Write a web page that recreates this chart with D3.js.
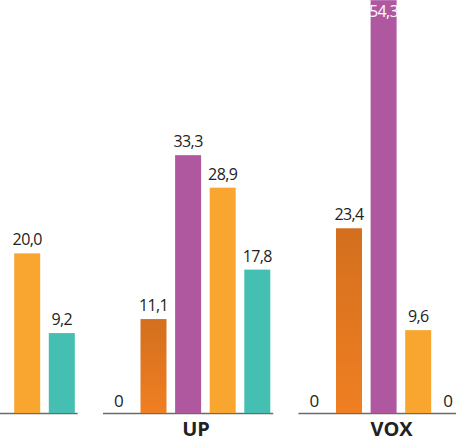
<!DOCTYPE html>
<html>
<head>
<meta charset="utf-8">
<script src="https://cdn.jsdelivr.net/npm/d3@7"></script>
<style>
  html, body { margin: 0; padding: 0; background: #fff; }
  svg { display: block; }
</style>
</head>
<body>
<svg id="chart" width="456" height="441"></svg>
<script>
// ---- data ----
const categories = ["", "UP", "VOX"];
const seriesNames = ["s0", "s1", "s2", "s3", "s4"];
const s0Values = [null, 0, 0];
const s1Values = [null, 11.1, 23.4];
const s2Values = [null, 33.3, 54.3];
const s3Values = [20.0, 28.9, 9.6];
const s4Values = [9.2, 17.8, 0];
const seriesValues = [s0Values, s1Values, s2Values, s3Values, s4Values];

// ---- styles ----
const seriesFills = ["#999999", "url(#gradDark)", "#b0589f", "#f8a62f", "#44bfb1"];
const W = 456, H = 441;
const baseline = 413;
const FONT = "'Open Sans', 'Noto Sans', sans-serif";

const svg = d3.select("#chart");
const defs = svg.append("defs");
const grad = defs.append("linearGradient").attr("id", "gradDark")
  .attr("x1", 0).attr("y1", 0).attr("x2", 0).attr("y2", 1);
grad.append("stop").attr("offset", "0%").attr("stop-color", "#d36f1e");
grad.append("stop").attr("offset", "100%").attr("stop-color", "#f07f22");

const x0 = d3.scaleBand().domain(categories).range([-92.5, 468.7])
  .paddingInner(0.1294).paddingOuter(0);
const x1 = d3.scaleBand().domain(seriesNames).range([0, x0.bandwidth()])
  .paddingInner(0.2486).paddingOuter(0.084);
const y = d3.scaleLinear().domain([0, 55]).range([401, -5]);

const locale = d3.formatLocale({decimal: ",", thousands: ".", grouping: [3], currency: ["", "€"]});
const fmt = v => v === 0 ? "0" : locale.format(".1f")(v);

const rows = [];
categories.forEach((c, i) => {
  seriesNames.forEach((s, j) => {
    const v = seriesValues[j][i];
    if (v !== null && v !== undefined) rows.push({cat: c, series: s, j, value: v});
  });
});

const g = svg.append("g");

// axis baselines per group
g.selectAll("line.base").data(categories).join("line")
  .attr("class", "base")
  .attr("x1", d => x0(d))
  .attr("x2", d => x0(d) + x0.bandwidth())
  .attr("y1", baseline + 0.5).attr("y2", baseline + 0.5)
  .attr("stroke", "#6b6b6b").attr("stroke-width", 1.5);

// bars
g.selectAll("rect.bar").data(rows.filter(d => d.value > 0)).join("rect")
  .attr("class", "bar")
  .attr("x", d => x0(d.cat) + x1(d.series))
  .attr("width", x1.bandwidth())
  .attr("y", d => y(d.value))
  .attr("height", d => baseline - y(d.value))
  .attr("fill", d => seriesFills[d.j]);

// value labels
const cx = d => x0(d.cat) + x1(d.series) + x1.bandwidth() / 2;
const overflowRight = d => cx(d) + 5 > W - 3;
const inside = d => d.value > 0 && y(d.value) - 8 < 14;
g.selectAll("text.val").data(rows).join("text")
  .attr("class", "val")
  .attr("x", d => overflowRight(d) ? W - 3 : cx(d))
  .attr("y", d => {
    if (d.value === 0) return baseline - 6.5;
    return inside(d) ? 17 : y(d.value) - 8;
  })
  .attr("text-anchor", d => overflowRight(d) ? "end" : "middle")
  .attr("font-family", FONT)
  .attr("font-size", d => d.value === 0 ? 17 : 16)
  .attr("letter-spacing", d => d.value === 0 ? 0 : -0.6)
  .attr("fill", d => inside(d) ? "#ffffff" : "#222222")
  .text(d => fmt(d.value));

// category labels
g.selectAll("text.cat").data(categories).join("text")
  .attr("class", "cat")
  .attr("x", d => x0(d) + x0.bandwidth() / 2 + 8)
  .attr("y", 436)
  .attr("text-anchor", "middle")
  .attr("font-family", FONT)
  .attr("font-weight", "bold")
  .attr("font-size", 20)
  .attr("fill", "#222222")
  .text(d => d);
</script>
</body>
</html>
